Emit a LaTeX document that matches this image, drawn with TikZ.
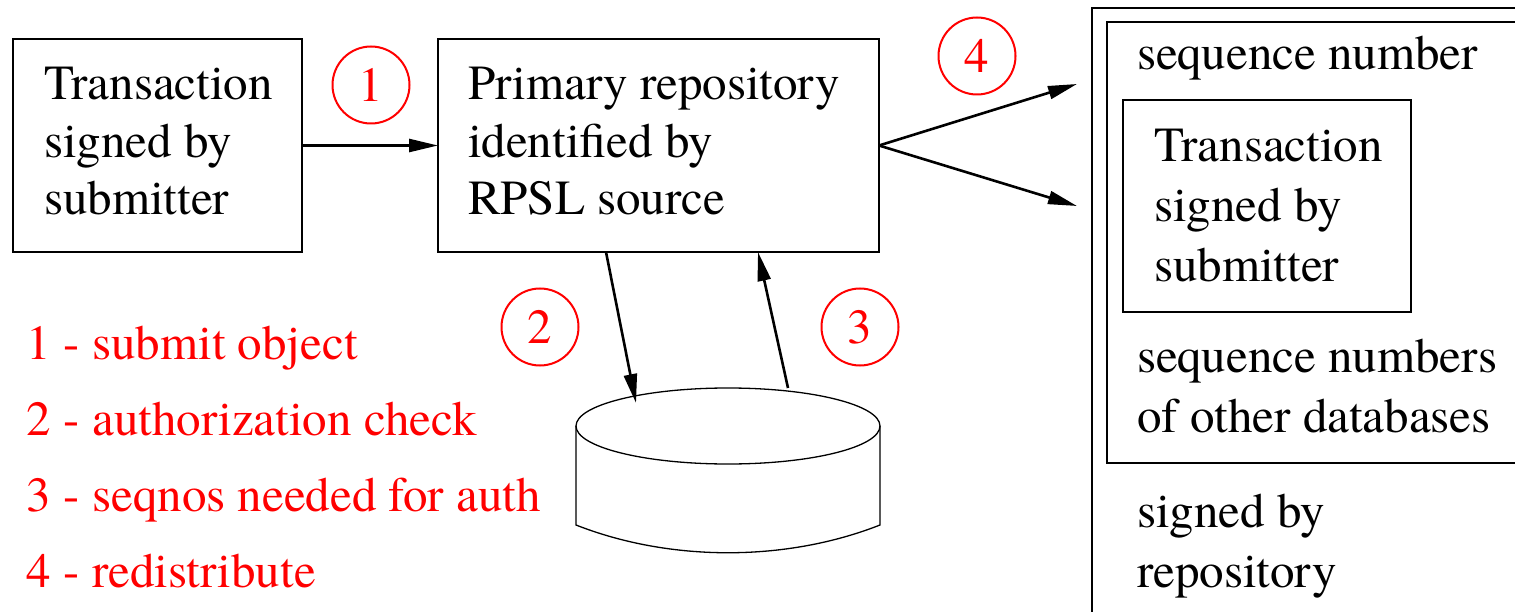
\documentclass[tikz,border=0pt]{standalone}
\usepackage{fontspec}
\IfFontExistsTF{texgyretermes-regular.otf}
  {\setmainfont{texgyretermes-regular.otf}}
  {\setmainfont{Liberation Serif}}
\usetikzlibrary{arrows.meta,calc}
\begin{document}
\begin{tikzpicture}[x=1pt,y=-1pt,
  every node/.style={inner sep=0pt, outer sep=0pt},
  % multi-line text nodes are anchored at the baseline of their last line
  txt/.style={font=\fontsize{49}{57.5}\selectfont, align=left, anchor=base west},
  wide/.style={font=\fontsize{49}{60}\selectfont},
  box/.style={draw, line width=1.3pt},
  legend/.style={txt, text=red, font=\fontsize{49}{76}\selectfont},
  num/.style={circle, draw=red, line width=2pt, minimum size=77pt, text=red,
              font=\fontsize{49}{57.5}\selectfont},
  arr/.style={line width=2.6pt, -{Triangle[length=29pt,width=13pt]}},
]
\useasboundingbox (0,0) rectangle (1515,612);

% submitter and primary repository
\node[box, minimum width=289pt, minimum height=213pt] (subm) at (157.5,145.5) {};
\node[box, minimum width=441pt, minimum height=213pt] (prim) at (658.5,145.5) {};
\node[txt] (submtxt) at (44,215) {Transaction\\signed by\\submitter};
\node[txt] (primtxt) at (468,215) {Primary repository\\identified by\\RPSL source};

% database cylinder
\coordinate (db) at (728,426);
\draw[box] (db) ellipse [x radius=152, y radius=38];
\draw[box] (576,426) -- (576,525) .. controls (670,562) and (786,562) .. (880,525) -- (880,426);

% redistributed object
\begin{scope}
  \clip (0,0) rectangle (1515,612);
  \node[box, anchor=north west, minimum width=460pt, minimum height=640pt] (outer) at (1092,8) {};
  \node[box, anchor=north west, minimum width=450pt, minimum height=441pt] (seqbox) at (1107,22) {};
\end{scope}
\node[box, minimum width=288pt, minimum height=212pt] (inner) at (1267,206) {};
\node[txt] (seqtxt) at (1137,70) {sequence number};
\node[txt, wide] (innertxt) at (1154,282) {Transaction\\signed by\\submitter};
\node[txt, wide] (othtxt) at (1137,432) {sequence numbers\\of other databases};
\node[txt, wide] (sigtxt) at (1137,587) {signed by\\repository};

% connectors
\coordinate (p2) at ($(prim.south west)+(168,0)$);
\coordinate (p3) at ($(prim.south west)+(320,0)$);
\coordinate (d2) at (636,403);
\coordinate (d3) at (788,388);
\coordinate (r4a) at (1077,84);
\coordinate (r4b) at (1077,206);
\draw[arr] (subm.east) -- (prim.west);
\draw[arr] (p2) -- (d2);
\draw[arr] (d3) -- (p3);
\draw[arr] (prim.east) -- (r4a);
\draw[arr] (prim.east) -- (r4b);

% step markers
\node[num] (n1) at (371,85) {1};
\node[num] (n2) at (540,327) {2};
\node[num] (n3) at (860,327) {3};
\node[num] (n4) at (977,56) {4};

% legend
\node[legend] (leg) at (27,587) {1 - submit object\\2 - authorization check\\3 - seqnos needed for auth\\4 - redistribute};
\end{tikzpicture}
\end{document}
